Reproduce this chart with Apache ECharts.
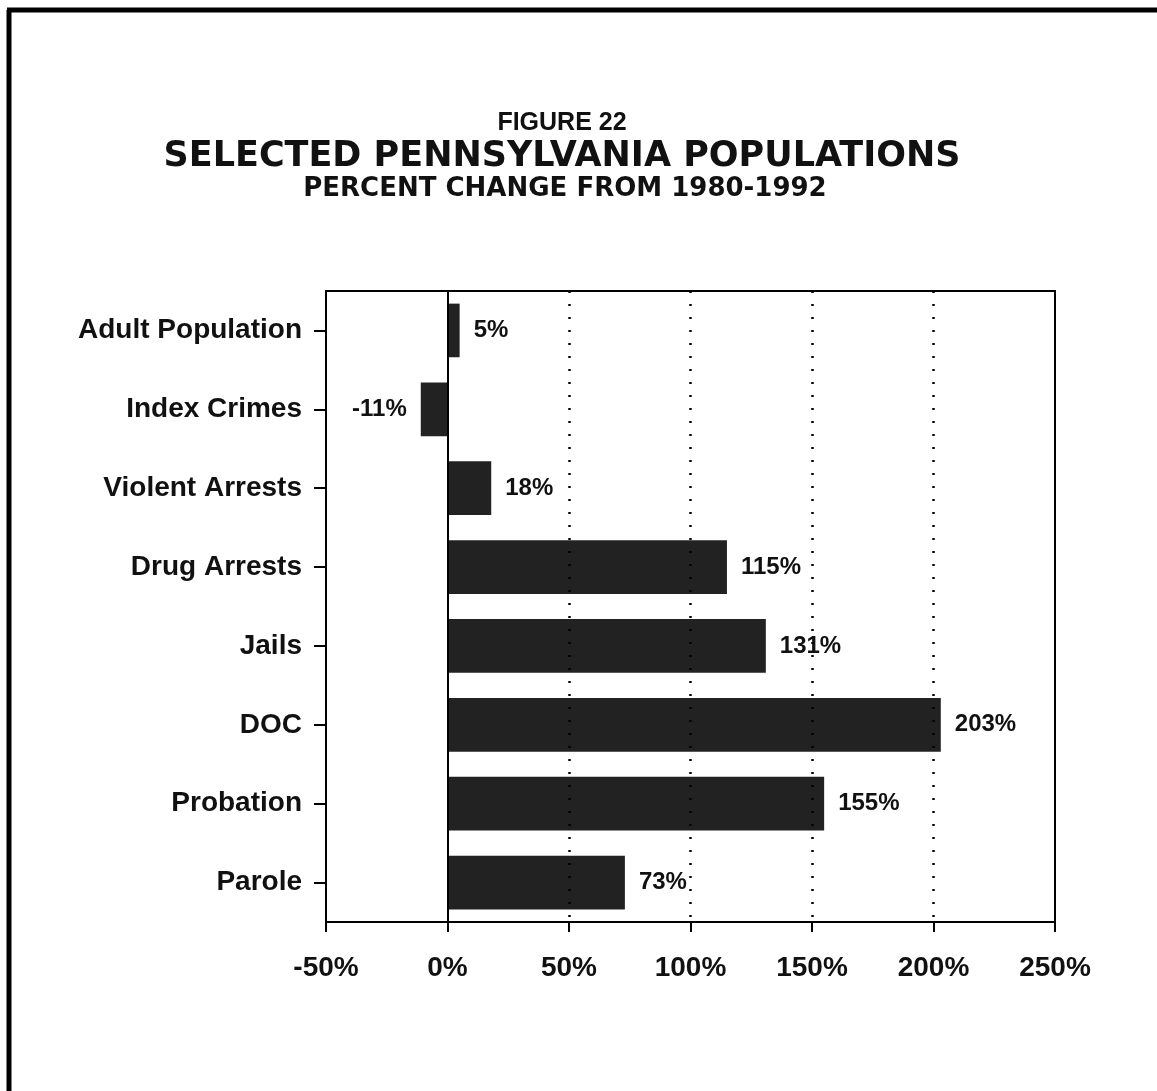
<!DOCTYPE html>
<html>
<head>
<meta charset="utf-8">
<script src="https://cdn.jsdelivr.net/npm/echarts@6/dist/echarts.min.js"></script>
<style>
html,body{margin:0;padding:0;background:#fff;}
#chart{width:1157px;height:1091px;}
</style>
</head>
<body>
<div id="chart"></div>
<script>
const categories = ['Adult Population','Index Crimes','Violent Arrests','Drug Arrests','Jails','DOC','Probation','Parole'];
const values = [5, -11, 18, 115, 131, 203, 155, 73];
const xTicks = [-50, 0, 50, 100, 150, 200, 250];
const gridValues = [50, 100, 150, 200];
const titleLine1 = 'FIGURE 22';
const titleLine2 = 'SELECTED PENNSYLVANIA POPULATIONS';
const titleLine3 = 'PERCENT CHANGE FROM 1980-1992';

const chart = echarts.init(document.getElementById('chart'), null, {renderer:'canvas'});
const AR = 'Liberation Sans, Arial, sans-serif';
const DJ = 'DejaVu Sans, sans-serif';

const lineData = [{xAxis:0, lineStyle:{type:'solid', width:2, color:'#000'}}]
  .concat(gridValues.map(v => ({xAxis:v, lineStyle:{type:[2,11], width:2.5, color:'#000'}})));

chart.setOption({
  backgroundColor:'#fff',
  animation:false,
  title:[
    {text:titleLine1, left:562, top:111, textAlign:'center', padding:0,
     textStyle:{fontFamily:AR, fontSize:25, fontWeight:'bold', color:'#111'}},
    {text:titleLine2, left:562, top:139, textAlign:'center', padding:0,
     textStyle:{fontFamily:DJ, fontSize:35, fontWeight:'bold', color:'#111'}},
    {text:titleLine3, left:565, top:176, textAlign:'center', padding:0,
     textStyle:{fontFamily:DJ, fontSize:26, fontWeight:'bold', color:'#111'}}
  ],
  graphic:[
    {type:'line', shape:{x1:9, y1:10, x2:9, y2:1091}, style:{stroke:'#000', lineWidth:5}},
    {type:'line', shape:{x1:7, y1:10, x2:1157, y2:10}, style:{stroke:'#000', lineWidth:5}}
  ],
  grid:{left:326, right:102, top:291, bottom:169, show:true, borderColor:'#000', borderWidth:2, backgroundColor:'transparent'},
  xAxis:{
    type:'value', min:xTicks[0], max:xTicks[xTicks.length-1], interval:50,
    axisLine:{show:true, onZero:false, lineStyle:{color:'#000', width:2}},
    axisTick:{show:true, length:10, lineStyle:{color:'#000', width:2}},
    axisLabel:{formatter:'{value}%', fontFamily:AR, fontSize:28, fontWeight:'bold', color:'#111', margin:32},
    splitLine:{show:false}
  },
  yAxis:{
    type:'category', data:categories, inverse:true,
    axisLine:{show:true, onZero:false, lineStyle:{color:'#000', width:2}},
    axisTick:{show:true, alignWithLabel:true, length:12, lineStyle:{color:'#000', width:2}},
    axisLabel:{fontFamily:AR, fontSize:28, fontWeight:'bold', color:'#111', margin:24},
    splitLine:{show:false}
  },
  series:[{
    type:'bar', data:values.map(v=>({value:v, label:{position: v<0?'left':'right'}})),
    barWidth:'68%',
    itemStyle:{color:'#222'},
    label:{show:true, formatter:'{c}%', distance:14, fontFamily:AR, fontSize:24, fontWeight:'bold', color:'#111'},
    markLine:{silent:true, symbol:'none', label:{show:false}, animation:false, data:lineData},
    z:3
  }]
});
</script>
</body>
</html>
